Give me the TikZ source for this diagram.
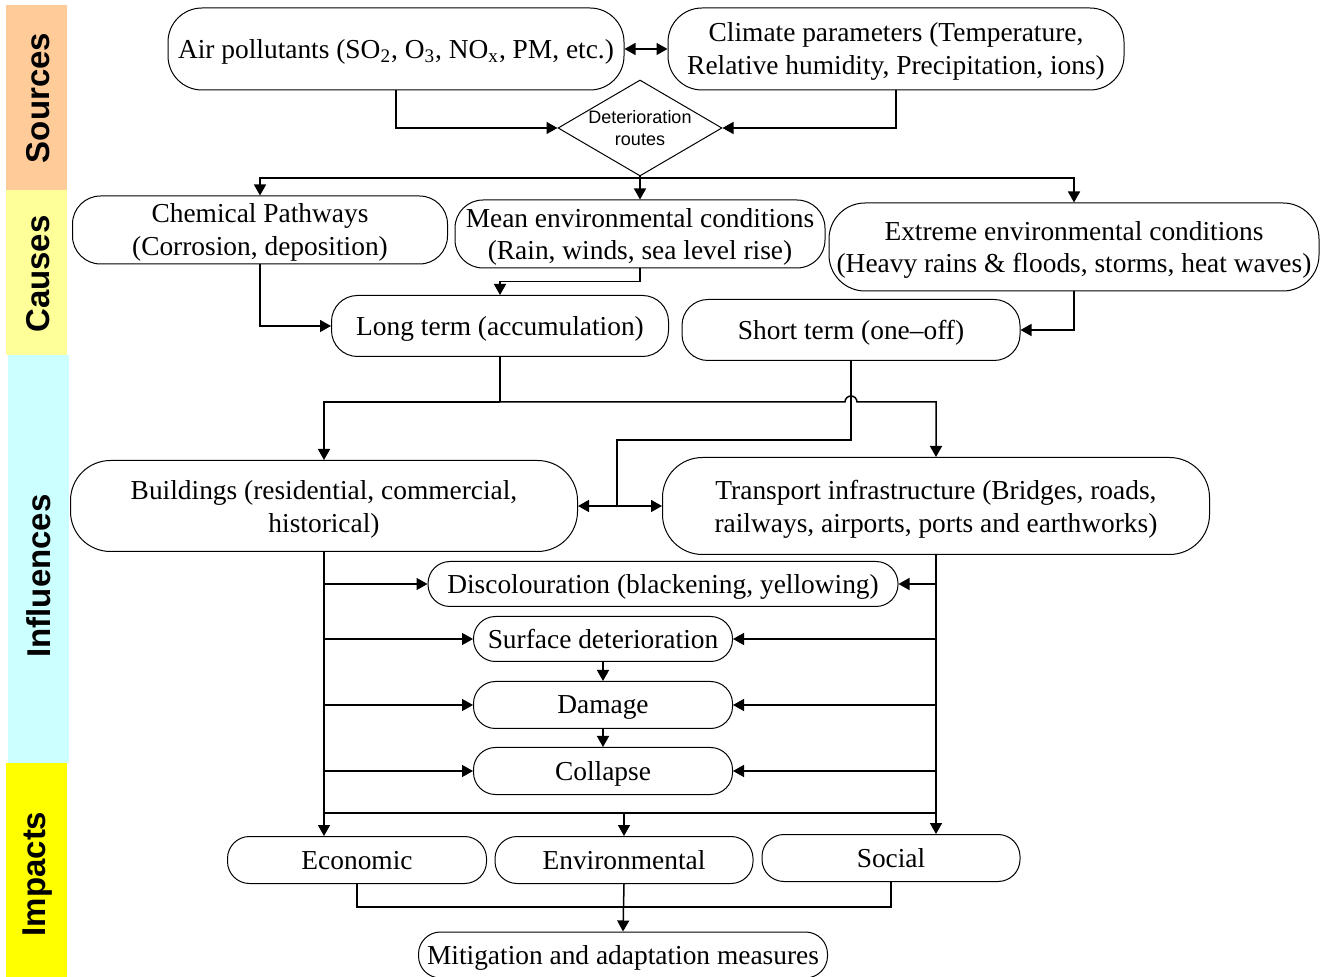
\documentclass[tikz,border=0pt]{standalone}
\usepackage{fontspec}
\setmainfont{Liberation Serif}
\newfontfamily\sidefont{Liberation Sans}
\usetikzlibrary{arrows.meta,shapes.geometric}
\definecolor{srccol}{HTML}{FFCC99}
\definecolor{causecol}{HTML}{FFFF99}
\definecolor{inflcol}{HTML}{CCFFFF}
\definecolor{impcol}{HTML}{FFFF00}

\begin{document}
\begin{tikzpicture}[
  x=0.5pt, y=-0.5pt,
  font=\fontsize{13.7}{16.5}\selectfont,
  box/.style={draw, rounded corners=#1, align=center, inner sep=1pt,
              text depth=0pt, line width=0.5pt},
  box/.default=11pt,
  arr/.style={-{Triangle[length=5.5pt,width=6pt]}, line width=0.75pt},
  arrs/.style={{Triangle[length=5.5pt,width=6pt]}-{Triangle[length=5.5pt,width=6pt]},
               line width=0.75pt},
  wire/.style={line width=0.75pt},
  bandlabel/.style={font=\sidefont\bfseries\fontsize{16.5}{19}\selectfont, rotate=90},
]
\useasboundingbox (0,0) rectangle (1333,977);

% ------------------------------------------------------------- side bands
\fill[srccol]   (6,5)   rectangle (67,190);
\fill[causecol] (6,190) rectangle (67,355);
\fill[inflcol]  (8,355) rectangle (69,763);
\fill[impcol]   (6,763) rectangle (67,977);
\node[bandlabel] (srclab)  at (38,98)  {Sources};
\node[bandlabel] (causelab) at (38,274) {Causes};
\node[bandlabel] (infllab) at (39,576) {Influences};
\node[bandlabel] (implab)  at (38,874) {Impacts};

% ------------------------------------------------------------- sources
\node[box=17pt, minimum width=228pt, minimum height=41pt] (air) at (396,49)
  {Air pollutants (SO\textsubscript{2}, O\textsubscript{3}, NO\textsubscript{x}, PM, etc.)};
\node[box=17pt, minimum width=228pt, minimum height=41pt] (climate) at (896,49)
  {Climate parameters (Temperature,\\Relative humidity, Precipitation, ions)};

\node[draw, diamond, minimum width=82pt, minimum height=48pt, inner sep=0pt,
      line width=0.5pt] (routes) at (640,128) {};
\node[font=\sidefont\fontsize{9}{11}\selectfont, align=center] (routestext)
  at (routes) {Deterioration\\routes};

% ------------------------------------------------------------- causes
\node[box=14pt, minimum width=187.5pt, minimum height=34pt] (chem) at (260,230)
  {Chemical Pathways\\(Corrosion, deposition)};
\node[box=14pt, minimum width=185pt, minimum height=34pt] (mean) at (640,234)
  {Mean environmental conditions\\(Rain, winds, sea level rise)};
\node[box=18pt, minimum width=245pt, minimum height=44pt] (extreme) at (1074,247)
  {Extreme environmental conditions\\(Heavy rains \& floods, storms, heat waves)};

\node[box=13pt, minimum width=168.5pt, minimum height=30.5pt] (long) at (500,326)
  {Long term (accumulation)};
\node[box=13pt, minimum width=169pt, minimum height=30.5pt] (short) at (851,330)
  {Short term (one--off)};

% ------------------------------------------------------------- influences
\node[box=20pt, minimum width=253.5pt, minimum height=45.5pt] (build) at (324,506)
  {Buildings (residential, commercial,\\historical)};
\node[box=20pt, minimum width=273.5pt, minimum height=48.5pt] (trans) at (936,506)
  {Transport infrastructure (Bridges, roads,\\railways, airports, ports and earthworks)};

\node[box, minimum width=235pt, minimum height=22.5pt] (disc) at (663,584)
  {Discolouration (blackening, yellowing)};
\node[box, minimum width=129.5pt, minimum height=22.5pt] (surf) at (603,639)
  {Surface deterioration};
\node[box, minimum width=129.5pt, minimum height=23.5pt] (damage) at (603,705)
  {Damage};
\node[box, minimum width=129.5pt, minimum height=23.5pt] (collapse) at (603,771)
  {Collapse};

% ------------------------------------------------------------- impacts
\node[box, minimum width=129.5pt, minimum height=23.5pt] (econ) at (357,860)
  {Economic};
\node[box, minimum width=129pt, minimum height=23.5pt] (env) at (624,860)
  {Environmental};
\node[box, minimum width=129pt, minimum height=23.5pt] (social) at (891,858)
  {Social};
\node[box, minimum width=204.5pt, minimum height=23pt] (mitig) at (623,955)
  {Mitigation and adaptation measures};

% ------------------------------------------------------------- arrows
\draw[arrs] (air) -- (climate);
\draw[arr] (air.south) |- (routes.west);
\draw[arr] (climate.south) |- (routes.east);

\coordinate (split) at (640,178);
\draw[wire] (routes.south) -- (split);
\draw[arr] (split) -| (chem.north);
\draw[arr] (split) -- (mean.north);
\draw[arr] (split) -| (extreme.north);

\draw[arr] (chem.south) |- (long.west);
\draw[arr] (mean.south) -- ++(0,13) -| (long.north);
\draw[arr] (extreme.south) |- (short.east);

\coordinate (lsplit) at (500,402);
\draw[wire] (long.south) -- (lsplit);
\draw[arr] (lsplit) -| (build.north);
\draw[arr] (lsplit) -- (845,402) arc[start angle=180, end angle=0, radius=3pt]
  -| (trans.north);

\coordinate (bt) at (617,506);
\draw[wire] (short.south) -- ++(0,79) -| (bt);
\draw[arr] (bt) -- (build.east);
\draw[arr] (bt) -- (trans.west);

\draw[arr] (build.south) -- (build.south |- econ.north);
\draw[arr] (trans.south) -- (trans.south |- social.north);
\foreach \n in {disc,surf,damage,collapse} {
  \draw[arr] (build.south |- \n.west) -- (\n.west);
  \draw[arr] (trans.south |- \n.east) -- (\n.east);
}
\draw[arr] (surf) -- (damage);
\draw[arr] (damage) -- (collapse);

\coordinate (lbus) at (324,813);
\coordinate (rbus) at (936,813);
\draw[wire] (lbus) -- (rbus);
\draw[arr] (env.north |- lbus) -- (env.north);

\coordinate (mj) at (624,907);
\draw[wire] (econ.south) |- (mj);
\draw[wire] (social.south) |- (mj);
\draw[arr] (env.south) -- (mitig.north);

\end{tikzpicture}
\end{document}
